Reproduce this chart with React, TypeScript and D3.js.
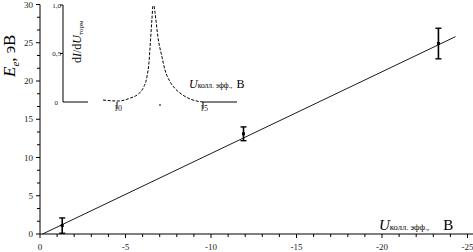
import React from "react";
import * as d3 from "d3";

// ---- Data ----
const pointX = [-1.3, -11.9, -23.3];
const pointY = [1.1, 13.1, 24.9];
const pointErr = [1.0, 0.9, 2.0];
const fitX = [-0.15, -24.3];
const fitY = [0, 25.8];

const xMajor = [0, -5, -10, -15, -20, -25];
const xMajorLabels = ["0", "-5", "-10", "-15", "-20", "-25"];
const yMajor = [0, 5, 10, 15, 20, 25, 30];
const yMajorLabels = ["0", "5", "10", "15", "20", "25", "30"];

// inset curve (dI/dU vs U)
const insetU = [9.19, 10.06, 10.76, 11.22, 11.51, 11.74, 11.86, 11.95, 12.03, 12.09, 12.15, 12.21, 12.38, 12.62, 12.79, 13.08, 13.37, 13.84, 14.42, 15.0];
const insetV = [0.02, 0.01, 0.04, 0.08, 0.14, 0.26, 0.41, 0.64, 0.85, 0.99, 0.99, 0.92, 0.67, 0.46, 0.33, 0.21, 0.14, 0.07, 0.02, 0.0];
const insetXTicks = [10, 15];
const insetXTickLabels = ["10", "15"];
const insetYTicks = [0, 0.5, 1.0];
const insetYTickLabels = ["0", "0,5", "1,0"];

const FONT = "'Liberation Serif', 'DejaVu Serif', serif";

export default function App() {
  const W = 473, H = 252;
  const x = d3.scaleLinear().domain([0, -25]).range([40, 467.5]);
  const y = d3.scaleLinear().domain([0, 30]).range([234, 4.5]);

  const xMinor = d3.range(0, -26, -1).filter((v) => v % 5 !== 0);
  const yMinor = d3.range(0, 30, 5 / 3).filter((v, i) => i % 3 !== 0);

  const xi = d3.scaleLinear().domain([10, 15]).range([117, 203]);
  const yi = d3.scaleLinear().domain([0, 1]).range([102, 5]);
  const insetLine = d3
    .line<number>()
    .x((d, i) => xi(insetU[i]))
    .y((d, i) => yi(insetV[i]))
    .curve(d3.curveMonotoneX);

  const fitLine = d3.line<number>().x((d, i) => x(fitX[i])).y((d, i) => y(fitY[i]));

  return (
    <svg width={W} height={H} style={{ position: "absolute", left: 0, top: 0, background: "#fff" }}>
      <rect width={W} height={H} fill="#fff" />
      {/* main axes */}
      <line x1={x(0)} x2={W} y1={y(0)} y2={y(0)} stroke="#000" strokeWidth={1} />
      <line x1={x(0)} x2={x(0)} y1={y(0)} y2={y(30)} stroke="#000" strokeWidth={1} />
      {xMajor.map((v, i) => (
        <g key={"xm" + i}>
          <line x1={x(v)} x2={x(v)} y1={y(0)} y2={y(0) + 4} stroke="#000" />
          <text x={x(v)} y={249.5} fontSize={9} fontFamily={FONT} textAnchor="middle" fill="#222">
            {xMajorLabels[i]}
          </text>
        </g>
      ))}
      {xMinor.map((v, i) => (
        <line key={"xn" + i} x1={x(v)} x2={x(v)} y1={y(0)} y2={y(0) + 3} stroke="#000" />
      ))}
      {yMajor.map((v, i) => (
        <g key={"ym" + i}>
          <line x1={x(0) - 4} x2={x(0)} y1={y(v)} y2={y(v)} stroke="#000" />
          <text x={33} y={y(v) + 3} fontSize={9} fontFamily={FONT} textAnchor="end" fill="#222">
            {yMajorLabels[i]}
          </text>
        </g>
      ))}
      {yMinor.map((v, i) => (
        <line key={"yn" + i} x1={x(0) - 3} x2={x(0)} y1={y(v)} y2={y(v)} stroke="#000" />
      ))}

      {/* fit line */}
      <path d={fitLine([0, 1]) || ""} fill="none" stroke="#000" strokeWidth={0.9} />

      {/* points with error bars */}
      {pointX.map((v, i) => {
        const cx = x(v);
        const top = y(pointY[i] + pointErr[i]);
        const bot = y(pointY[i] - pointErr[i]);
        return (
          <g key={"p" + i}>
            <line x1={cx} x2={cx} y1={top} y2={bot} stroke="#000" strokeWidth={1.6} />
            <line x1={cx - 3} x2={cx + 3} y1={top} y2={top} stroke="#000" strokeWidth={1.4} />
            <line x1={cx - 3} x2={cx + 3} y1={bot} y2={bot} stroke="#000" strokeWidth={1.4} />
            <rect x={cx - 1.5} y={y(pointY[i]) - 1.5} width={3} height={3} fill="#000" />
          </g>
        );
      })}

      {/* main y label */}
      <text
        transform={`translate(14.5, 77) rotate(-90)`}
        fontFamily={FONT}
        fontSize={17}
        fill="#000"
      >
        <tspan fontStyle="italic">E</tspan>
        <tspan fontStyle="italic" fontSize={11} dy={4}>e</tspan>
        <tspan dy={-4}>, эВ</tspan>
      </text>

      {/* main x label */}
      <text x={379} y={230} fontFamily={FONT} fontSize={15} fill="#000">
        <tspan fontStyle="italic">U</tspan>
        <tspan fontSize={8.5} dy={0}>колл. эфф.,</tspan>
        <tspan dx={14}>В</tspan>
      </text>

      {/* inset */}
      <line x1={63} x2={63} y1={yi(0)} y2={yi(1)} stroke="#000" strokeWidth={1} />
      {insetYTicks.map((v, i) => (
        <g key={"iy" + i}>
          {v > 0 && <line x1={60} x2={63} y1={yi(v)} y2={yi(v)} stroke="#000" />}
          <text x={v === 0 ? 58 : 61} y={yi(v) + 2.5} fontSize={7} fontFamily={FONT} textAnchor="end" fill="#222">
            {insetYTickLabels[i]}
          </text>
        </g>
      ))}
      <line x1={63} x2={88} y1={yi(0)} y2={yi(0)} stroke="#000" strokeWidth={1} />
      <line x1={xi(15)} x2={237} y1={yi(0)} y2={yi(0)} stroke="#000" strokeWidth={1} />
      <path d={insetLine(insetU) || ""} fill="none" stroke="#000" strokeWidth={1} strokeDasharray="3,1.6" />
      {insetXTicks.map((v, i) => (
        <g key={"ix" + i}>
          <line x1={xi(v)} x2={xi(v)} y1={yi(0)} y2={yi(0) + 7} stroke="#000" />
          <text x={xi(v) + 1} y={111} fontSize={8} fontFamily={FONT} textAnchor="middle" fill="#222">
            {insetXTickLabels[i]}
          </text>
        </g>
      ))}
      <line x1={xi(12.5)} x2={xi(12.5)} y1={yi(0) + 2} y2={yi(0) + 4} stroke="#000" />

      {/* inset y label */}
      <text transform={`translate(81, 63) rotate(-90)`} fontFamily={FONT} fontSize={12} fill="#000">
        <tspan>d</tspan>
        <tspan fontStyle="italic">I</tspan>
        <tspan>/d</tspan>
        <tspan fontStyle="italic">U</tspan>
        <tspan fontSize={7} dy={2}>торм</tspan>
      </text>

      {/* inset x label */}
      <text x={189} y={88} fontFamily={FONT} fontSize={12} fill="#000">
        <tspan fontStyle="italic">U</tspan>
        <tspan fontSize={7.5}>колл. эфф.,</tspan>
        <tspan dx={4}>В</tspan>
      </text>
    </svg>
  );
}
